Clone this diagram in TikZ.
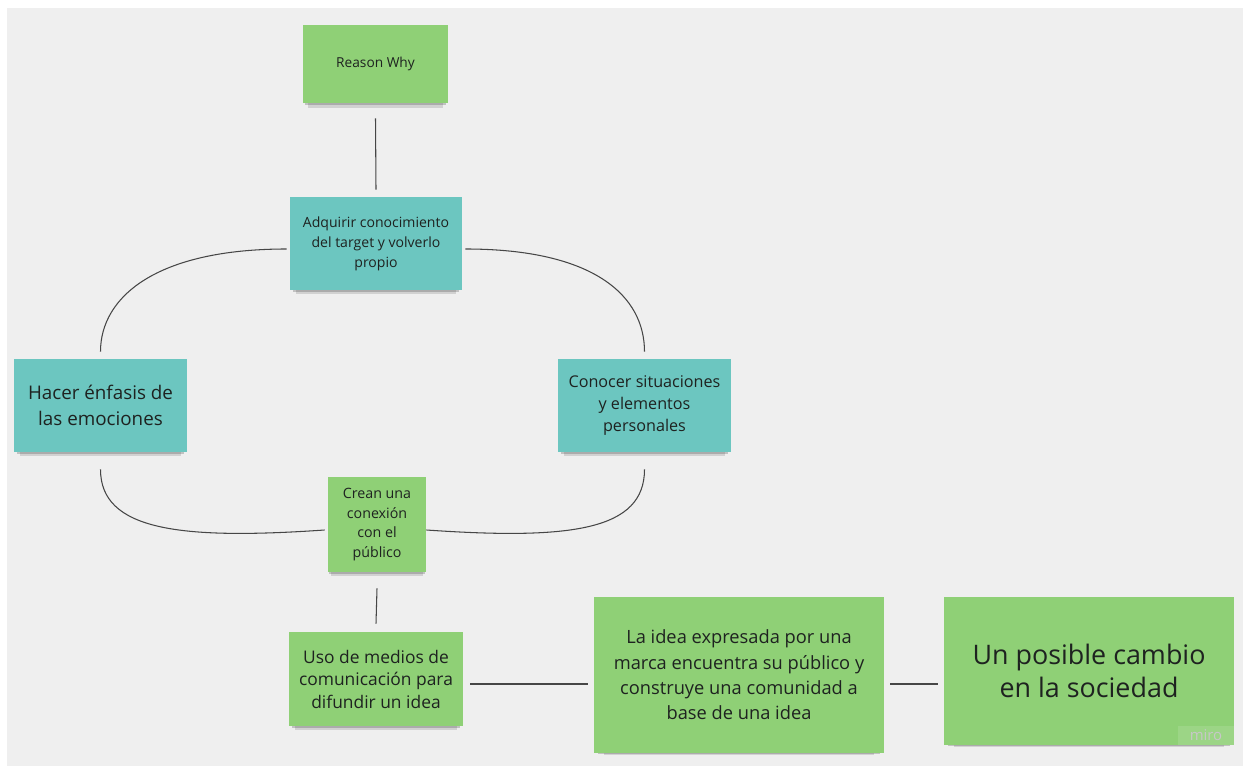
\documentclass[tikz,border=0pt]{standalone}
\usepackage{fontspec}
\setmainfont{Open Sans}
\usetikzlibrary{shadows}
\definecolor{boardgray}{RGB}{239,239,239}
\definecolor{notegreen}{RGB}{143,208,118}
\definecolor{noteteal}{RGB}{108,198,192}
\definecolor{notetext}{RGB}{30,34,32}
\definecolor{linkgray}{RGB}{70,70,70}

\begin{document}
\begin{tikzpicture}[
  note/.style = {rectangle, inner sep=0pt, align=center, text=notetext,
    drop shadow={shadow xshift=0pt, shadow yshift=-2pt, opacity=0.28, fill=black!70, shadow scale=0.97},
    drop shadow={shadow xshift=0pt, shadow yshift=-4.5pt, opacity=0.18, fill=black!70, shadow scale=0.93}},
  green note/.style = {note, fill=notegreen},
  teal note/.style = {note, fill=noteteal},
  link/.style = {linkgray, line width=0.6pt}
]
\fill[white] (0,0) rectangle (25,15.44); % page
\fill[boardgray] (0.14,0.12) rectangle (24.86,15.28); % board

\node[green note, minimum width=2.9cm, minimum height=1.56cm, font=\fontsize{7.8}{10}\selectfont] (reason) at (7.51,14.16) {Reason Why}; % top note
\node[teal note, minimum width=3.44cm, minimum height=1.86cm, font=\fontsize{8}{11.3}\selectfont] (adquirir) at (7.52,10.57) {Adquirir conocimiento\\del target y volverlo\\propio}; % centre note
\node[teal note, minimum width=3.46cm, minimum height=1.86cm, font=\fontsize{10.7}{15}\selectfont] (hacer) at (2.01,7.33) {Hacer énfasis de\\las emociones}; % left note
\node[teal note, minimum width=3.46cm, minimum height=1.86cm, font=\fontsize{9.2}{12.6}\selectfont] (conocer) at (12.89,7.33) {Conocer situaciones\\y elementos\\personales}; % right note
\node[green note, minimum width=1.96cm, minimum height=1.9cm, font=\fontsize{8.1}{11.3}\selectfont] (crean) at (7.54,4.95) {Crean una\\conexión\\con el\\público}; % bottom of the loop
\node[green note, minimum width=3.48cm, minimum height=1.88cm, font=\fontsize{9.9}{12.8}\selectfont] (uso) at (7.52,1.86) {Uso de medios de\\comunicación para\\difundir un idea}; % media note
\node[green note, minimum width=5.8cm, minimum height=3.12cm, font=\fontsize{10.4}{14.4}\selectfont] (laidea) at (14.78,1.94) {La idea expresada por una\\marca encuentra su público y\\construye una comunidad a\\base de una idea}; % big note
\node[green note, minimum width=5.8cm, minimum height=2.96cm, font=\fontsize{15.3}{19}\selectfont] (cambio) at (21.78,2.02) {Un posible cambio\\en la sociedad}; % last note

\node[fill=white, fill opacity=0.12, text opacity=1, text=black!22, inner sep=0pt, minimum width=1.12cm, minimum height=0.38cm, font=\fontsize{8.5}{10}\selectfont] (miro) at (24.12,0.73) {miro}; % watermark

\draw[link] ([yshift=-0.3cm]reason.south) -- ([yshift=0.14cm]adquirir.north); % reason to centre
\draw[link] ([shift={(-0.06,-0.11)}]adquirir.west) .. controls +(-2.6,0) and +(0,1.1) .. ([yshift=0.14cm]hacer.north); % centre to left
\draw[link] ([shift={(0.06,-0.11)}]adquirir.east) .. controls +(2.6,0) and +(0,1.1) .. ([yshift=0.14cm]conocer.north); % centre to right
\draw[link] ([yshift=-0.34cm]hacer.south) .. controls +(0,-1.22) and +(-2.9,-0.2) .. ([shift={(-0.06,-0.11)}]crean.west); % left to bottom
\draw[link] ([yshift=-0.34cm]conocer.south) .. controls +(0,-1.22) and +(2.9,-0.2) .. ([shift={(0,-0.11)}]crean.east); % right to bottom
\draw[link] ([yshift=-0.32cm]crean.south) -- ([yshift=0.16cm]uso.north); % bottom to media
\draw[link] ([shift={(0.14,-0.1)}]uso.east) -- ([shift={(-0.12,-0.1)}]uso.east -| laidea.west); % media to big note
\draw[link] ([shift={(0.12,-0.18)}]laidea.east) -- ([shift={(-0.12,-0.18)}]laidea.east -| cambio.west); % big note to last
\end{tikzpicture}
\end{document}
